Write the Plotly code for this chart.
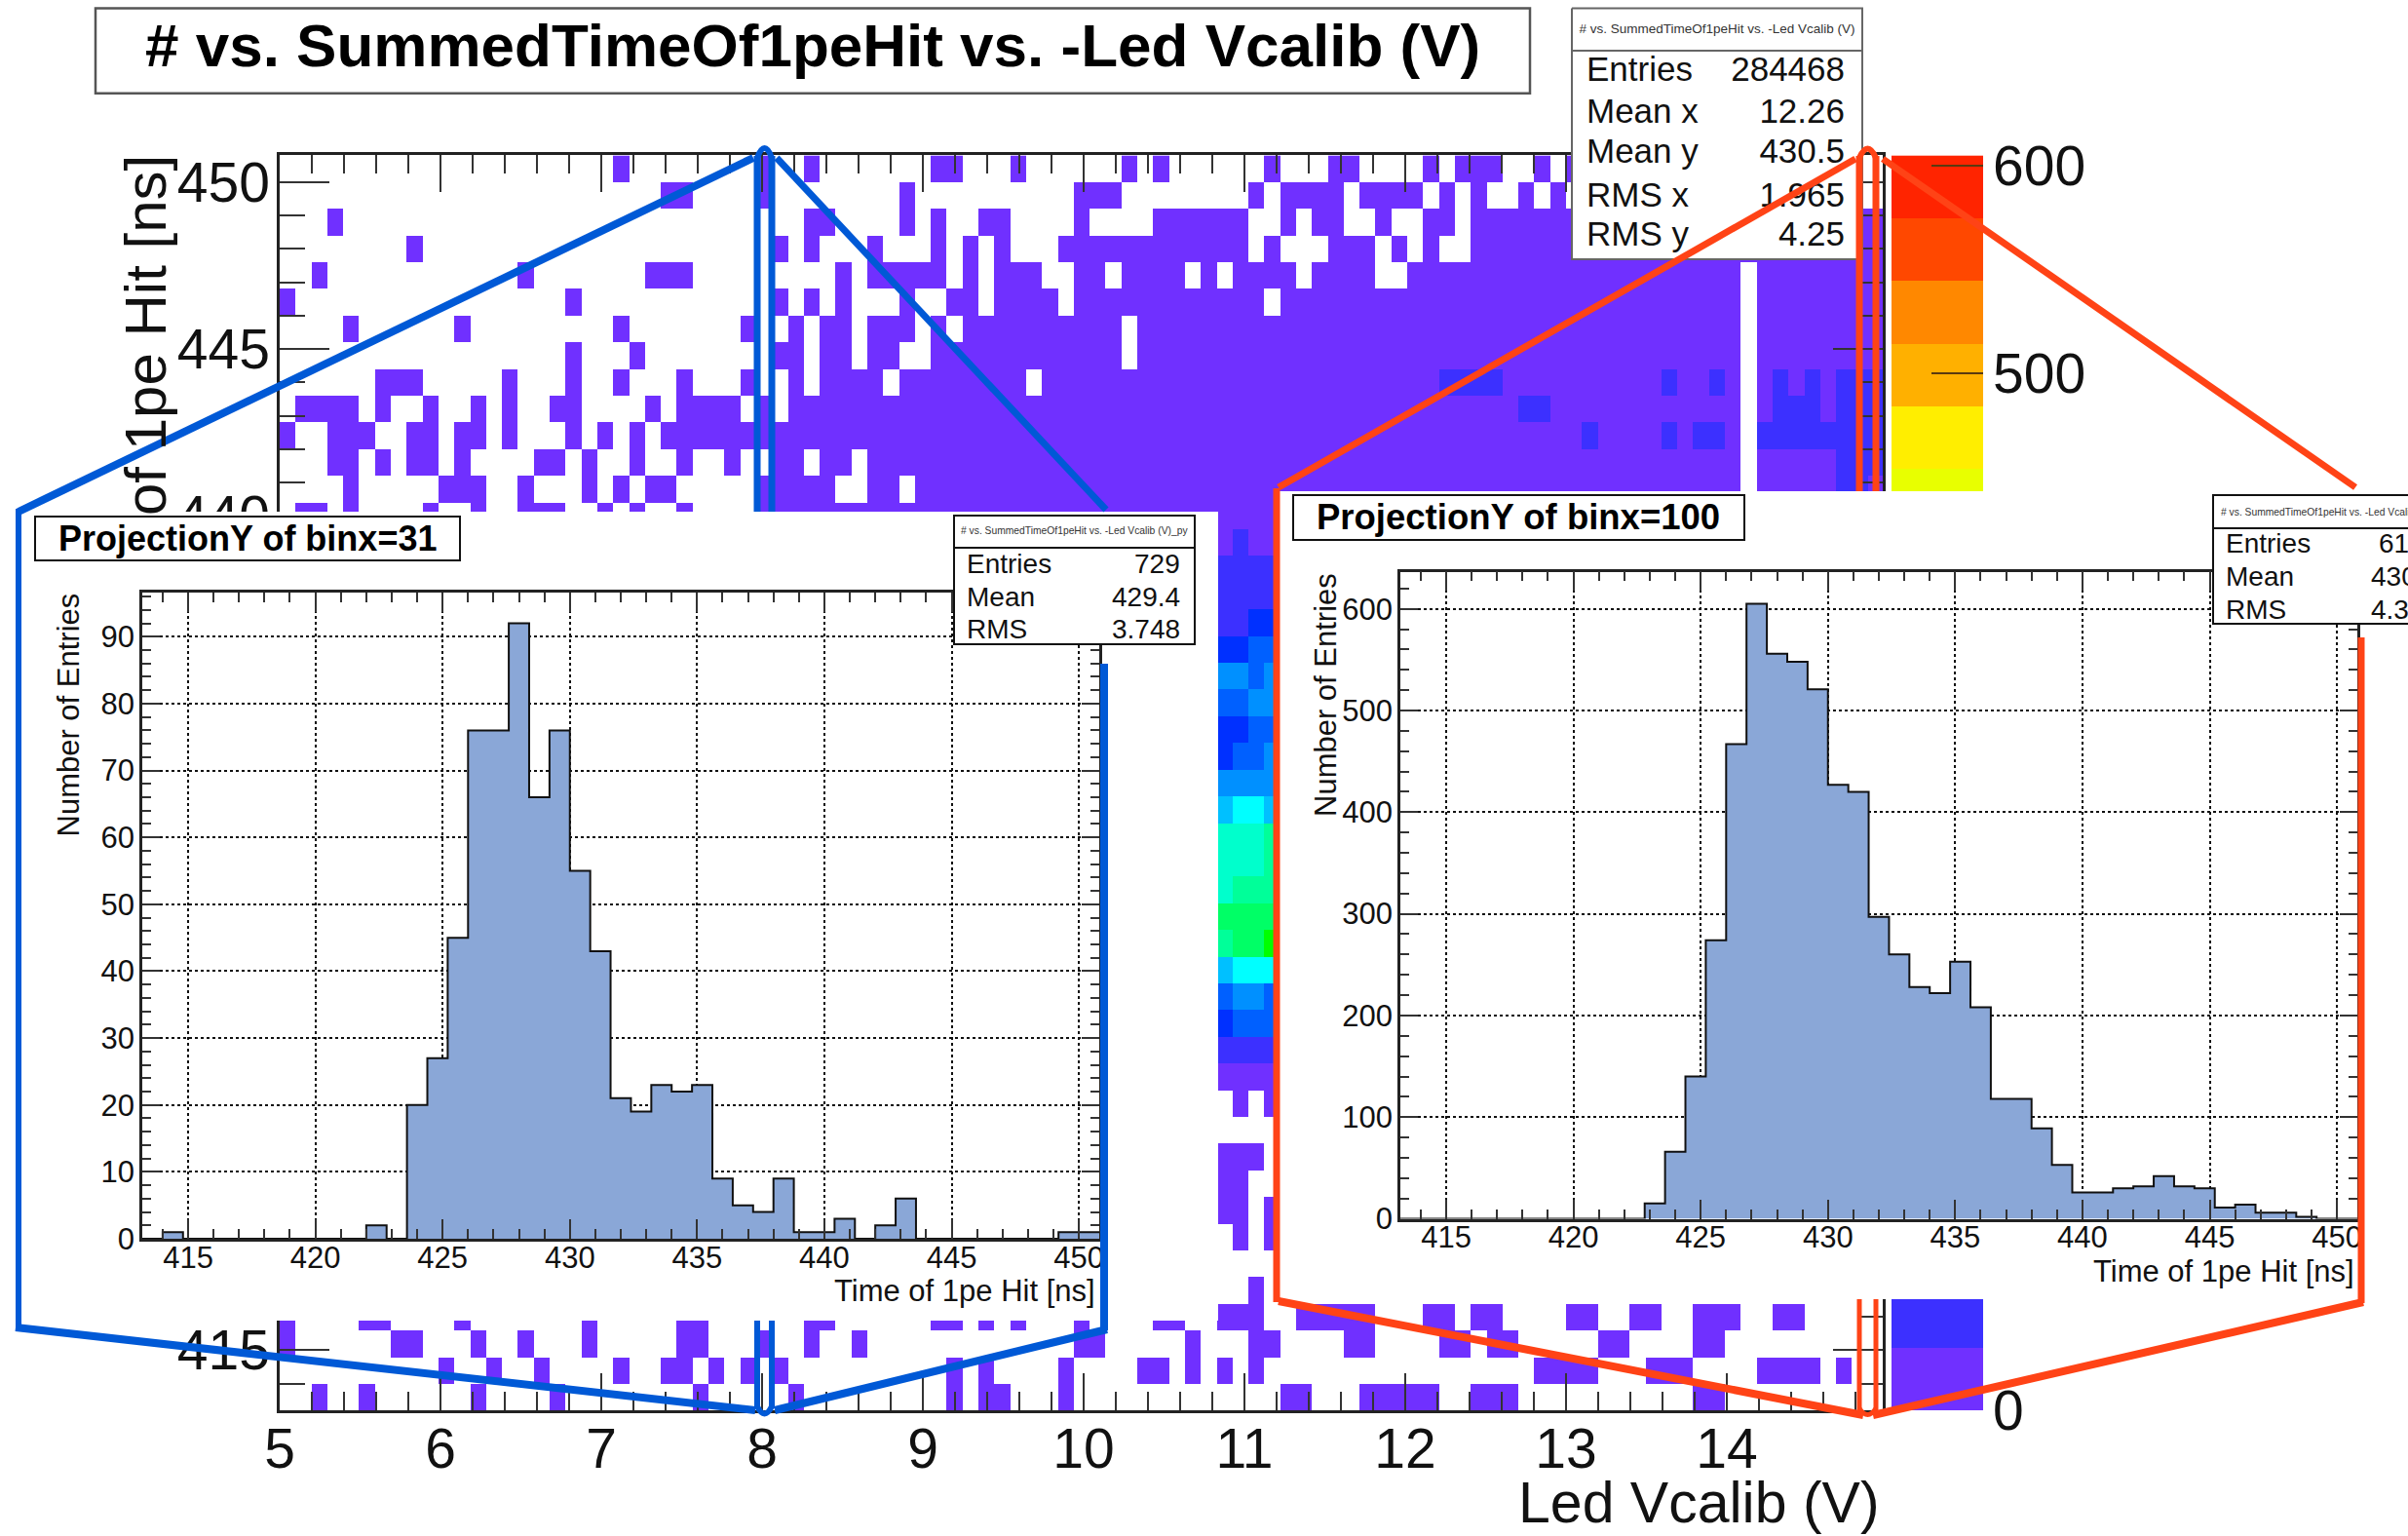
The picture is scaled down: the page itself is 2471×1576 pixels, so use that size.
import numpy as np
import plotly.graph_objects as go

W, H = 2471, 1576
FONT = "Liberation Sans"

# ---------- data ----------
MAIN_TITLE = "# vs. SummedTimeOf1peHit vs. -Led Vcalib (V)"
N_XBINS = 101
XBIN_WIDTH = 0.0988
N_YBINS = 47
Y_LOW = 413.2
YBIN_WIDTH = 0.8
N_LEVELS = 20
Z_MAX = 605.0
LEVEL_COLORS = ["#7030FF", "#3C30FF", "#0030FF", "#0060FF", "#0090FF", "#00C0FF", "#00FFFF",
                "#00FFCC", "#00FF99", "#00FF66", "#00FF00", "#55FF00", "#99FF00", "#C8FF00",
                "#E8FF00", "#FFEE00", "#FFB000", "#FF8800", "#FF4800", "#FF2400"]
LOW_COUNT = 15
NEXT_COUNT = 45

# occupied bins per row (row 0 = top), as runs of x-bin indices
TOP_RUNS = [
    [(21,21),(30,30),(33,33),(41,42),(46,46),(53,53),(55,55),(62,62),(66,67),(72,72),(74,76),(79,79),(81,97)],
    [(24,25),(30,30),(39,39),(50,52),(61,61),(63,66),(68,71),(73,73),(75,75),(78,78),(80,80),(82,97)],
    [(3,3),(33,34),(39,39),(41,41),(44,45),(50,50),(55,60),(63,63),(65,66),(69,69),(72,73),(75,100)],
    [(8,8),(31,31),(33,33),(37,37),(41,41),(43,43),(45,45),(49,60),(62,62),(66,68),(70,70),(72,72),(75,100)],
    [(2,2),(15,15),(23,25),(35,35),(37,41),(43,43),(45,47),(50,51),(53,56),(58,58),(60,63),(65,68),(71,91),(93,100)],
    [(0,0),(18,18),(31,31),(33,33),(35,35),(39,39),(42,43),(45,48),(50,61),(63,91),(93,100)],
    [(4,4),(11,11),(21,21),(29,29),(32,32),(34,35),(37,39),(41,41),(43,52),(54,91),(93,100)],
    [(18,18),(22,22),(31,32),(34,35),(37,38),(41,52),(54,91),(93,100)],
    [(6,8),(14,14),(18,18),(21,21),(25,25),(29,29),(32,32),(34,37),(39,46),(48,91),(93,100)],
    [(1,4),(6,6),(9,9),(12,12),(14,14),(17,18),(23,23),(25,28),(30,30),(32,91),(93,100)],
    [(0,0),(3,5),(8,9),(11,12),(14,14),(18,18),(20,20),(22,22),(24,91),(93,100)],
    [(3,4),(6,6),(8,9),(11,11),(16,17),(19,19),(22,22),(25,25),(28,28),(31,32),(34,35),(37,91),(93,100)],
    [(4,4),(10,12),(15,15),(19,19),(21,21),(23,24),(30,34),(37,38),(40,91),(93,100)],
    [(1,2),(4,4),(9,9),(12,12),(15,17),(20,20),(22,22),(25,25),(30,91),(93,100)],
]
# bins in the next colour band, row: runs
NEXT_BAND_RUNS = {
    8: [(73,76),(87,87),(90,90),(94,94),(96,96),(98,100)],
    9: [(78,79),(94,96),(98,100)],
    10: [(82,82),(87,87),(89,90),(93,100)],
    11: [(98,100)],
    12: [(98,99)],
    13: [(98,99)],
}
# the four columns (x-bins 59..62) seen between the two insets, rows 14..42
STRIP_FIRST_BIN = 59
STRIP_FIRST_ROW = 14
STRIP_COUNTS = [
    [15,45,15,15],[45,45,45,45],[45,45,45,45],[45,45,76,76],[76,76,106,106],
    [136,136,106,136],[106,106,136,136],[76,76,106,106],[76,106,106,136],[136,136,136,136],
    [166,197,197,166],[227,227,227,257],[227,227,227,257],[227,257,257,257],[287,287,287,287],
    [257,287,287,318],[166,197,197,197],[106,136,136,106],[76,106,106,106],[45,45,45,45],
    [15,15,15,15],[None,15,None,15],[None,None,None,None],[15,15,15,None],[15,15,None,None],
    [15,15,None,15],[None,15,None,15],[None,None,None,None],[None,None,15,None],
]
BOTTOM_FIRST_ROW = 43
BOTTOM_RUNS = [
    [(0,0),(5,6),(11,11),(19,19),(25,26),(33,34),(41,42),(44,44),(46,46),(50,50),(55,56),(59,61),(64,68),(72,73),(75,76),(81,82),(85,86),(89,91),(94,95)],
    [(0,0),(7,8),(12,12),(15,15),(19,19),(25,26),(30,30),(33,33),(36,36),(50,51),(57,57),(61,62),(67,68),(73,74),(76,77),(83,84),(89,90)],
    [(10,10),(13,13),(16,16),(21,21),(24,25),(27,27),(29,29),(31,31),(42,42),(44,44),(49,49),(54,55),(57,57),(59,59),(61,61),(79,82),(86,88),(93,96),(98,98)],
    [(2,2),(5,5),(12,12),(17,17),(26,26),(32,32),(42,42),(44,45),(49,49),(63,64),(68,69),(70,72),(75,77),(89,90)],
]

BINX31_COUNTS = [0,1,0,0,0,0,0,0,0,0,0,2,0,20,27,45,76,76,92,66,76,55,43,21,19,23,22,23,9,5,4,9,1,1,3,0,2,6,0,0,0,0,0,0,0,1,1]
BINX100_COUNTS = [0,0,0,0,0,0,0,0,0,0,0,0,15,66,140,274,467,605,556,548,521,427,420,297,260,228,222,253,208,118,118,89,53,26,26,30,32,42,32,30,11,14,6,6,2,0,0]

MAIN_STATS = [("Entries", "284468"), ("Mean x", "12.26"), ("Mean y", "430.5"), ("RMS x", "1.965"), ("RMS y", "4.25")]
LEFT_STATS = [("Entries", "729"), ("Mean", "429.4"), ("RMS", "3.748")]
RIGHT_STATS = [("Entries", "6142"), ("Mean", "430.4"), ("RMS", "4.332")]

# ---------- helpers ----------
def nx(p): return p / W
def ny(p): return 1 - p / H
def dx(a, b): return [nx(a), nx(b)]
def dy(top, bottom): return [ny(bottom), ny(top)]

BLUE, ORANGE = "#0059D6", "#FF4316"

# ---------- main matrix ----------
x_edges = [5 + XBIN_WIDTH * i for i in range(N_XBINS + 1)]
y_edges = [Y_LOW + YBIN_WIDTH * i for i in range(N_YBINS + 1)]
z = np.full((N_YBINS, N_XBINS), np.nan)
def put(row, runs, val):
    for a, b in runs:
        z[N_YBINS - 1 - row, a:b + 1] = val
for r, runs in enumerate(TOP_RUNS):
    put(r, runs, LOW_COUNT)
for r, runs in NEXT_BAND_RUNS.items():
    put(r, runs, NEXT_COUNT)
for j, row in enumerate(STRIP_COUNTS):
    for i, v in enumerate(row):
        z[N_YBINS - 1 - (STRIP_FIRST_ROW + j), STRIP_FIRST_BIN + i] = np.nan if v is None else v
for j, runs in enumerate(BOTTOM_RUNS):
    put(BOTTOM_FIRST_ROW + j, runs, LOW_COUNT)

band = Z_MAX / N_LEVELS
cscale = []
for i, c in enumerate(LEVEL_COLORS):
    cscale += [[i / N_LEVELS, c], [(i + 1) / N_LEVELS, c]]

fig = go.Figure()
fig.add_trace(go.Heatmap(x=x_edges, y=y_edges, z=z, zmin=0, zmax=Z_MAX, colorscale=cscale,
                         showscale=False, hoverongaps=False, xaxis="x", yaxis="y"))

# palette
level_edges = [band * i for i in range(N_LEVELS + 1)]
level_mid = [[band * (i + 0.5)] for i in range(N_LEVELS)]
fig.add_trace(go.Heatmap(x=[0, 1], y=level_edges, z=level_mid, zmin=0, zmax=Z_MAX, colorscale=cscale,
                         showscale=False, xaxis="x2", yaxis="y2"))

# main stats box (drawn as traces so that the callout can pass above it)
S_L, S_R, S_T, S_B, S_SEP = 1613, 1911, 8.6, 266, 52
fig.add_trace(go.Scatter(x=[S_L, S_R, S_R, S_L, S_L], y=[S_T, S_T, S_B, S_B, S_T], mode="lines",
                         fill="toself", fillcolor="white", line=dict(color="#666", width=2),
                         xaxis="x3", yaxis="y3"))
fig.add_trace(go.Scatter(x=[S_L, S_R], y=[S_SEP, S_SEP], mode="lines", line=dict(color="#666", width=2),
                         xaxis="x3", yaxis="y3"))
rows_y = [74, 117, 158, 203, 243]
fig.add_trace(go.Scatter(x=[1628] * 5, y=rows_y, mode="text", text=[a for a, _ in MAIN_STATS],
                         textposition="middle right", textfont=dict(size=35, family=FONT, color="#111"),
                         xaxis="x3", yaxis="y3"))
fig.add_trace(go.Scatter(x=[1893] * 5, y=rows_y, mode="text", text=[b for _, b in MAIN_STATS],
                         textposition="middle left", textfont=dict(size=35, family=FONT, color="#111"),
                         xaxis="x3", yaxis="y3"))
fig.add_trace(go.Scatter(x=[(S_L + S_R) / 2], y=[31], mode="text", text=[MAIN_TITLE], textposition="middle center",
                         textfont=dict(size=13.5, family=FONT, color="#333"), xaxis="x3", yaxis="y3"))

PANEL_SQUARE_X = [0, 1, 1, 0, 0]
PANEL_SQUARE_Y = [0, 0, 1, 1, 0]
def panel(ax):
    fig.add_trace(go.Scatter(x=PANEL_SQUARE_X, y=PANEL_SQUARE_Y, mode="lines", fill="toself", fillcolor="white",
                             line=dict(color="white", width=0), xaxis="x" + ax, yaxis="y" + ax))
def hist(vals, ax):
    fig.add_trace(go.Scatter(x=y_edges, y=list(vals) + [vals[-1]], mode="lines", line=dict(shape="hv", color="#111", width=2),
                             fill="tozeroy", fillcolor="#8AA7D7", xaxis="x" + ax, yaxis="y" + ax))
panel("4"); hist(BINX31_COUNTS, "5")
panel("6"); hist(BINX100_COUNTS, "7")

# ---------- axes ----------
TICK = "#333"
hidden = dict(visible=False, range=[0, 1], fixedrange=True)
def main_like(domain, rng, tick0, dtick, mdtick, tl, ml, size, standoff):
    return dict(domain=domain, range=rng, tick0=tick0, dtick=dtick, ticks="inside", ticklen=tl, tickwidth=1.5, tickcolor=TICK,
                minor=dict(tick0=tick0, dtick=mdtick, ticks="inside", ticklen=ml, tickwidth=1.5, tickcolor=TICK, showgrid=False),
                showline=True, linecolor="#222", linewidth=2.5, mirror="ticks", showgrid=False, zeroline=False,
                tickfont=dict(size=size, family=FONT, color="#111"), ticklabelstandoff=standoff)
def hist_x(domain, anchor):
    d = main_like(domain, [413.2, 450.8], 415, 5, 1, 20, 10, 31, -10)
    d.update(showgrid=True, griddash="dot", gridcolor="#111", gridwidth=1.5, anchor=anchor)
    return d
def hist_y(domain, top, dtick, mdtick, anchor):
    d = main_like(domain, [0, top], 0, dtick, mdtick, 18, 9, 31, -1)
    d.update(showgrid=True, griddash="dot", gridcolor="#111", gridwidth=1.5, anchor=anchor)
    return d

layout = dict(
    width=W, height=H, margin=dict(l=0, r=0, t=0, b=0, autoexpand=False), paper_bgcolor="white", plot_bgcolor="rgba(0,0,0,0)",
    showlegend=False, font=dict(family=FONT),
    xaxis=dict(main_like(dx(287, 1932), [5, 14.97], 5, 1, 0.2, 38, 19, 57, -12), anchor="y"),
    yaxis=dict(main_like(dy(159.4, 1447), [413.2, 450.8], 415, 5, 1, 51, 26, 57, -4), anchor="x"),
    xaxis2=dict(domain=dx(1941, 2035), range=[0, 1], visible=False, anchor="y2"),
    yaxis2=dict(domain=dy(159.4, 1447), range=[0, Z_MAX], anchor="x2", side="right", dtick=100, tick0=0, ticks="inside",
                ticklen=53, tickwidth=2, tickcolor="#5a3a10", showline=False, showgrid=False, zeroline=False,
                tickfont=dict(size=57, family=FONT, color="#111"), ticklabelstandoff=9),
    xaxis3=dict(domain=dx(S_L - 2, S_R + 2), range=[S_L - 2, S_R + 2], visible=False, anchor="y3"),
    yaxis3=dict(domain=dy(S_T - 2, S_B + 2), range=[S_B + 2, S_T - 2], visible=False, anchor="x3"),
    xaxis4=dict(hidden, domain=dx(17, 1250), anchor="y4"),
    yaxis4=dict(hidden, domain=dy(525, 1355), anchor="x4"),
    xaxis5=hist_x(dx(146, 1128), "y5"),
    yaxis5=hist_y(dy(608, 1271), 96.6, 10, 2, "x5"),
    xaxis6=dict(hidden, domain=dx(1311, 2471), anchor="y6"),
    yaxis6=dict(hidden, domain=dy(504, 1333), anchor="x6"),
    xaxis7=hist_x(dx(1437, 2419), "y7"),
    yaxis7=hist_y(dy(586.6, 1250.5), 636.6, 100, 20, "x7"),
)

# ---------- boxes and callouts ----------
def rect(x0, y0, x1, y1, color="#111", width=2):
    return dict(type="rect", xref="paper", yref="paper", x0=nx(x0), x1=nx(x1), y0=ny(y1), y1=ny(y0),
                fillcolor="white", line=dict(color=color, width=width), layer="above")
def seg(x0, y0, x1, y1, color, width):
    return dict(type="line", xref="paper", yref="paper", x0=nx(x0), x1=nx(x1), y0=ny(y0), y1=ny(y1),
                line=dict(color=color, width=width), layer="above")
def cap(x0, x1, y, peak, color, width):
    path = f"M {nx(x0)} {ny(y)} Q {nx((x0 + x1) / 2)} {ny(peak)} {nx(x1)} {ny(y)}"
    return dict(type="path", xref="paper", yref="paper", path=path, line=dict(color=color, width=width), layer="above")

shapes = [
    rect(98, 8.6, 1570, 95.7, "#555", 2.5),
    rect(36, 530, 472, 575), rect(979, 529, 1226, 661),
    seg(979, 562, 1226, 562, "#111", 2),
    rect(1327, 508, 1790, 554), rect(2271, 508, 2520, 640),
    seg(2271, 542, 2520, 542, "#111", 2),
    # blue callout
    seg(19, 525, 773, 162, BLUE, 8), seg(797, 162, 1135, 523, BLUE, 7),
    seg(777, 160, 777, 525, BLUE, 7), seg(792, 160, 792, 525, BLUE, 7),
    seg(777, 1355, 777, 1445, BLUE, 6), seg(792, 1355, 792, 1445, BLUE, 6),
    cap(777, 792, 162, 142, BLUE, 6), cap(777, 792, 1443, 1458, BLUE, 6),
    seg(19, 522, 19, 1362, BLUE, 6), seg(1133, 681, 1133, 1365, BLUE, 8),
    seg(16, 1362, 775, 1447, BLUE, 8), seg(795, 1447, 1136, 1364, BLUE, 8),
    # orange callout
    seg(1904, 163, 1312, 500, ORANGE, 7), seg(1932, 163, 2417, 500, ORANGE, 7),
    seg(1908, 160, 1908, 504, ORANGE, 7), seg(1925, 160, 1925, 504, ORANGE, 7),
    seg(1908, 1333, 1908, 1447, ORANGE, 5), seg(1925, 1333, 1925, 1447, ORANGE, 5),
    cap(1908, 1925, 162, 143, ORANGE, 6), cap(1908, 1925, 1445, 1458, ORANGE, 5),
    seg(1310, 501, 1310, 1336, ORANGE, 7), seg(2423, 654, 2423, 1337, ORANGE, 7),
    seg(1312, 1335, 1912, 1452, ORANGE, 8), seg(1922, 1452, 2425, 1336, ORANGE, 8),
]

# ---------- texts ----------
def txt(x, y, s, size, xa="left", ya="middle", angle=0, bold=False, color="#111"):
    return dict(xref="paper", yref="paper", x=nx(x), y=ny(y), text=f"<b>{s}</b>" if bold else s, showarrow=False,
                xanchor=xa, yanchor=ya, textangle=angle, borderpad=0, align="left",
                font=dict(size=size, family=FONT, color=color))

anns = [
    txt(834, 47, MAIN_TITLE, 62, "center", bold=True, color="#000"),
    txt(149, 158, "of 1pe Hit [ns]", 60, "center", "top", -90),
    txt(1743, 1542, "Led Vcalib (V)", 59, "center"),
    txt(254, 552, "ProjectionY of binx=31", 36, "center", bold=True, color="#000"),
    txt(1558, 531, "ProjectionY of binx=100", 36.5, "center", bold=True, color="#000"),
    txt(1102, 545, MAIN_TITLE + "_py", 10.3, "center", color="#333"),
    txt(2395, 525, MAIN_TITLE + "_py", 10.3, "center", color="#333"),
    txt(1125, 1324, "Time of 1pe Hit [ns]", 31, "right"),
    txt(2417, 1304, "Time of 1pe Hit [ns]", 31, "right"),
    txt(69.5, 608, "Number of Entries", 31, "center", "top", -90),
    txt(1361, 587, "Number of Entries", 31, "center", "top", -90),
]
for (a, b), y in zip(LEFT_STATS, [578, 612, 645]):
    anns += [txt(991, y, a, 28), txt(1212, y, b, 28, "right")]
for (a, b), y in zip(RIGHT_STATS, [557, 591, 625]):
    anns += [txt(2283, y, a, 28), txt(2504, y, b, 28, "right")]

fig.update_layout(**layout, shapes=shapes, annotations=anns)
fig.write_html("out.html", config=dict(displayModeBar=False),
               post_script="document.body.style.margin='0';document.body.style.overflow='hidden';")
